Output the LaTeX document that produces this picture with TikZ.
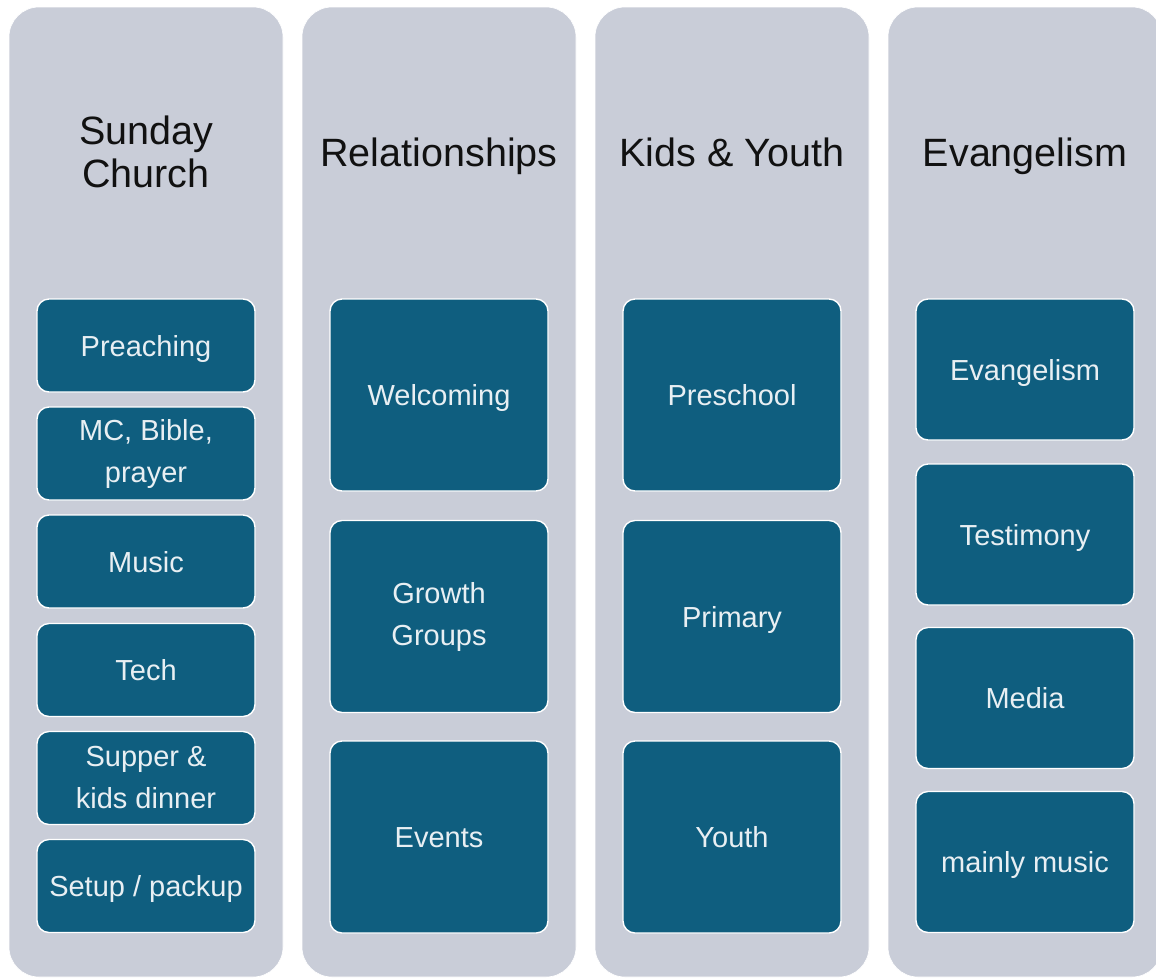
\documentclass[tikz,border=0pt]{standalone}
\usepackage{fontspec}
\setmainfont{Liberation Sans}
\definecolor{colfill}{HTML}{C9CDD8}
\definecolor{boxfill}{HTML}{0F5E7F}
\definecolor{boxtext}{HTML}{E8EFF3}
\definecolor{headtext}{HTML}{111111}
\begin{document}
\begin{tikzpicture}[x=1pt,y=-1pt,
  colbox/.style={rectangle, rounded corners=30pt, fill=colfill, draw=white, line width=0.6pt,
    minimum width=274pt, minimum height=970pt, inner sep=0pt},
  headlabel/.style={text=headtext, align=center, font=\fontsize{39.5}{43}\selectfont},
  headone/.style={headlabel, text height=28.4pt, text depth=0pt},
  itembox/.style={rectangle, rounded corners=12pt, fill=boxfill, draw=white, line width=1.4pt,
    minimum width=218pt, inner sep=0pt, text=boxtext, align=center,
    font=\fontsize{29}{42}\selectfont},
  one/.style={text height=21pt, text depth=0pt},
  small/.style={itembox, minimum height=93pt},
  tall/.style={itembox, minimum height=192pt},
  mid/.style={itembox, minimum height=141pt}]
\useasboundingbox (0,0) rectangle (1156,978);
\clip (0,0) rectangle (1156,978);
% columns
\node[colbox] (c1) at (146,492) {};
\node[colbox] (c2) at (439,492) {};
\node[colbox] (c3) at (732,492) {};
\node[colbox] (c4) at (1025,492) {};
% headers
\node[headlabel] (h1) at (146,152) {Sunday\\Church};
\node[headone] (h2) at (439,152) {Relationships};
\node[headone] (h3) at (732,152) {Kids \& Youth};
\node[headone] (h4) at (1025,152) {Evangelism};
% column 1
\node[small,one] (a1) at (146,345.5) {Preaching};
\node[small] (a2) at (146,453.5) {MC, Bible,\\prayer};
\node[small,one] (a3) at (146,561.5) {Music};
\node[small,one] (a4) at (146,670) {Tech};
\node[small] (a5) at (146,778) {Supper \&\\kids dinner};
\node[small,one] (a6) at (146,886) {Setup / packup};
% column 2
\node[tall,one] (b1) at (439,395) {Welcoming};
\node[tall] (b2) at (439,616.5) {Growth\\Groups};
\node[tall,one] (b3) at (439,837) {Events};
% column 3
\node[tall,one] (k1) at (732,395) {Preschool};
\node[tall,one] (k2) at (732,616.5) {Primary};
\node[tall,one] (k3) at (732,837) {Youth};
% column 4
\node[mid,one] (e1) at (1025,369.5) {Evangelism};
\node[mid,one] (e2) at (1025,534.5) {Testimony};
\node[mid,one] (e3) at (1025,698) {Media};
\node[mid,one] (e4) at (1025,862) {mainly music};
\end{tikzpicture}
\end{document}
